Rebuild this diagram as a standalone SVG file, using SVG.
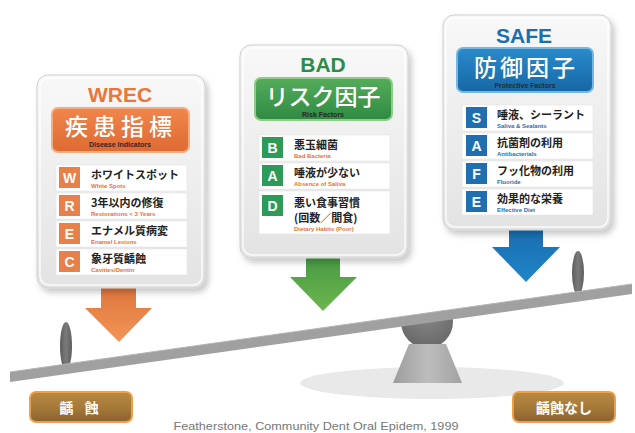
<svg xmlns="http://www.w3.org/2000/svg" width="635" height="433" viewBox="0 0 635 433">
<defs>
<style>
.card{fill:url(#cardG);stroke:#cfcfcf;stroke-width:1}
.cardIn{fill:none;stroke:#ffffff;stroke-width:1.5;opacity:.8}
.title{font-family:"Liberation Sans",Arial,sans-serif;font-weight:bold;font-size:21px;text-anchor:middle}
.hjp{font-family:"Noto Sans CJK JP",sans-serif;font-weight:500;font-size:23px;fill:#fff;text-anchor:middle}
.hen{font-family:"Liberation Sans",Arial,sans-serif;font-weight:bold;font-size:7px;fill:#2a2a2a;text-anchor:middle}
.row{fill:#fff;stroke:#e4e4e4;stroke-width:.6}
.let{font-family:"Liberation Sans",Arial,sans-serif;font-weight:bold;font-size:14px;fill:#fff;text-anchor:middle}
.rjp{font-family:"Noto Sans CJK JP",sans-serif;font-weight:700;font-size:11px;fill:#222}
.ren{font-family:"Liberation Sans",Arial,sans-serif;font-weight:bold;font-size:6px}
.btn{fill:url(#btnG);stroke:#eda048;stroke-width:2}
.btxt{font-family:"Noto Sans CJK JP",sans-serif;font-weight:700;font-size:14px;fill:#fff;text-anchor:middle}
</style>
<linearGradient id="cardG" x1="0" y1="0" x2="0" y2="1"><stop offset="0" stop-color="#f8f8f8"/><stop offset="1" stop-color="#e3e3e3"/></linearGradient>
<linearGradient id="oH" x1="0" y1="0" x2="0" y2="1"><stop offset="0" stop-color="#f0864c"/><stop offset="1" stop-color="#de6a32"/></linearGradient>
<linearGradient id="gH" x1="0" y1="0" x2="0" y2="1"><stop offset="0" stop-color="#55ac5a"/><stop offset="1" stop-color="#2f8a42"/></linearGradient>
<linearGradient id="bH" x1="0" y1="0" x2="0" y2="1"><stop offset="0" stop-color="#2a8bcb"/><stop offset="1" stop-color="#1667a6"/></linearGradient>
<linearGradient id="oA" x1="0" y1="0" x2="0" y2="1"><stop offset="0" stop-color="#d96c34"/><stop offset="1" stop-color="#f29556"/></linearGradient>
<linearGradient id="gA" x1="0" y1="0" x2="0" y2="1"><stop offset="0" stop-color="#3f9444"/><stop offset="1" stop-color="#6cb64c"/></linearGradient>
<linearGradient id="bA" x1="0" y1="0" x2="0" y2="1"><stop offset="0" stop-color="#1966a8"/><stop offset="1" stop-color="#1f86c8"/></linearGradient>
<linearGradient id="btnG" x1="0" y1="0" x2="0" y2="1"><stop offset="0" stop-color="#b88a44"/><stop offset=".5" stop-color="#a67a38"/><stop offset="1" stop-color="#8a6230"/></linearGradient>
<linearGradient id="trapG" x1="0" y1="0" x2="1" y2="0"><stop offset="0" stop-color="#9c9c9c"/><stop offset=".5" stop-color="#bdbdbd"/><stop offset="1" stop-color="#a2a2a2"/></linearGradient>
<linearGradient id="postG" x1="0" y1="0" x2="1" y2="0"><stop offset="0" stop-color="#5c5c5c"/><stop offset=".5" stop-color="#7a7a7a"/><stop offset="1" stop-color="#5e5e5e"/></linearGradient>
<radialGradient id="domeG" cx=".5" cy=".3" r=".7"><stop offset="0" stop-color="#8a8a8a"/><stop offset="1" stop-color="#686868"/></radialGradient>
<clipPath id="belowPlank"><polygon points="380,320 480,306 480,400 380,400"/></clipPath>
<filter id="sh" x="-10%" y="-10%" width="130%" height="130%"><feDropShadow dx="3" dy="4" stdDeviation="3" flood-color="#000" flood-opacity=".22"/></filter>
</defs>
<rect width="635" height="433" fill="#ffffff"/>

<!-- seesaw -->
<g id="seesaw">
<ellipse cx="432" cy="383" rx="132" ry="16" fill="#e9e9e9"/>
<circle cx="427" cy="322" r="26" fill="url(#domeG)" clip-path="url(#belowPlank)"/>
<polygon points="409,344 446,344 462,383 393,383" fill="url(#trapG)"/>
<ellipse cx="66" cy="346" rx="6" ry="24" fill="url(#postG)"/>
<ellipse cx="578" cy="273" rx="6" ry="22" fill="url(#postG)"/>
<polygon points="10,372 632,284 632,294 10,382" fill="#a0a0a0"/>
<line x1="10" y1="372" x2="632" y2="284" stroke="#b4b4b4" stroke-width="1"/>
</g>

<!-- connectors (arrows) -->
<g id="connectors">
<polygon points="101,270 136,270 136,308 152,308 119,342 85,308 101,308" fill="url(#oA)"/>
<polygon points="306,245 340,245 340,277 357,277 323,311 290,277 306,277" fill="url(#gA)"/>
<polygon points="509,215 543,215 543,247 560,247 526,282 492,247 509,247" fill="url(#bA)"/>
</g>

<!-- WREC card -->
<g id="wrec">
<rect class="card" x="37" y="75" width="168" height="213" rx="11" filter="url(#sh)"/>
<rect class="cardIn" x="40" y="78" width="162" height="207" rx="9"/>
<text class="title" x="120" y="102" fill="#e8773c">WREC</text>
<rect x="52" y="108" width="137" height="44" rx="6" fill="url(#oH)" stroke="#f5ad7f" stroke-width="2"/>
<text class="hjp" x="121" y="135" letter-spacing="5">疾患指標</text>
<text class="hen" x="120" y="147">Disease Indicators</text>
<rect class="row" x="56" y="165" width="131" height="26"/>
<rect x="59" y="167" width="21" height="21" fill="#e8804a"/>
<text class="let" x="69.5" y="183">W</text>
<text class="rjp" x="91" y="179">ホワイトスポット</text>
<text class="ren" x="91" y="188" fill="#e8703a">White Spots</text>
<rect class="row" x="56" y="193" width="131" height="26"/>
<rect x="59" y="195" width="21" height="21" fill="#e8804a"/>
<text class="let" x="69.5" y="211">R</text>
<text class="rjp" x="91" y="207">3年以内の修復</text>
<text class="ren" x="91" y="216" fill="#e8703a">Restorations &lt; 3 Years</text>
<rect class="row" x="56" y="221" width="131" height="26"/>
<rect x="59" y="223" width="21" height="21" fill="#e8804a"/>
<text class="let" x="69.5" y="239">E</text>
<text class="rjp" x="91" y="235">エナメル質病変</text>
<text class="ren" x="91" y="244" fill="#e8703a">Enamel Lesions</text>
<rect class="row" x="56" y="249" width="131" height="26"/>
<rect x="59" y="251" width="21" height="21" fill="#e8804a"/>
<text class="let" x="69.5" y="267">C</text>
<text class="rjp" x="91" y="263">象牙質齲蝕</text>
<text class="ren" x="91" y="272" fill="#e8703a">Cavities/Dentin</text>
</g>

<!-- BAD card -->
<g id="bad">
<rect class="card" x="240" y="45" width="168" height="213" rx="11" filter="url(#sh)"/>
<rect class="cardIn" x="243" y="48" width="162" height="207" rx="9"/>
<text class="title" x="323" y="72" fill="#2e8b4a">BAD</text>
<rect x="255" y="78" width="137" height="42" rx="6" fill="url(#gH)" stroke="#8fcc86" stroke-width="2"/>
<text class="hjp" x="323" y="105" font-size="24">リスク因子</text>
<text class="hen" x="323" y="117">Risk Factors</text>
<rect class="row" x="259" y="135" width="131" height="26"/>
<rect x="262" y="137" width="21" height="21" fill="#2e9a58"/>
<text class="let" x="272.5" y="153">B</text>
<text class="rjp" x="294" y="149">悪玉細菌</text>
<text class="ren" x="294" y="158" fill="#e8703a">Bad Bacteria</text>
<rect class="row" x="259" y="163" width="131" height="26"/>
<rect x="262" y="165" width="21" height="21" fill="#2e9a58"/>
<text class="let" x="272.5" y="181">A</text>
<text class="rjp" x="294" y="177">唾液が少ない</text>
<text class="ren" x="294" y="186" fill="#e8703a">Absence of Saliva</text>
<rect class="row" x="259" y="191" width="131" height="43"/>
<rect x="262" y="195" width="21" height="21" fill="#2e9a58"/>
<text class="let" x="272.5" y="211">D</text>
<text class="rjp" x="294" y="207">悪い食事習慣</text>
<text class="rjp" x="294" y="222">(回数／間食)</text>
<text class="ren" x="294" y="231" fill="#e8703a">Dietary Habits (Poor)</text>
</g>

<!-- SAFE card -->
<g id="safe">
<rect class="card" x="443" y="15" width="168" height="215" rx="11" filter="url(#sh)"/>
<rect class="cardIn" x="446" y="18" width="162" height="209" rx="9"/>
<text class="title" x="524" y="43" fill="#1b6fae" font-size="22">SAFE</text>
<rect x="457" y="48" width="136" height="44" rx="6" fill="url(#bH)" stroke="#78b6e2" stroke-width="2"/>
<text class="hjp" x="526" y="76" font-size="25" letter-spacing="3">防御因子</text>
<text class="hen" x="525" y="88">Protective Factors</text>
<rect class="row" x="462" y="105" width="131" height="26"/>
<rect x="466" y="107" width="21" height="21" fill="#1f6fb0"/>
<text class="let" x="476.5" y="123">S</text>
<text class="rjp" x="497" y="119">唾液、シーラント</text>
<text class="ren" x="497" y="128" fill="#2a70b0">Saliva &amp; Sealants</text>
<rect class="row" x="462" y="133" width="131" height="26"/>
<rect x="466" y="135" width="21" height="21" fill="#1f6fb0"/>
<text class="let" x="476.5" y="151">A</text>
<text class="rjp" x="497" y="147">抗菌剤の利用</text>
<text class="ren" x="497" y="156" fill="#2a70b0">Antibacterials</text>
<rect class="row" x="462" y="161" width="131" height="26"/>
<rect x="466" y="163" width="21" height="21" fill="#1f6fb0"/>
<text class="let" x="476.5" y="179">F</text>
<text class="rjp" x="497" y="175">フッ化物の利用</text>
<text class="ren" x="497" y="184" fill="#2a70b0">Fluoride</text>
<rect class="row" x="462" y="189" width="131" height="26"/>
<rect x="466" y="191" width="21" height="21" fill="#1f6fb0"/>
<text class="let" x="476.5" y="207">E</text>
<text class="rjp" x="497" y="203">効果的な栄養</text>
<text class="ren" x="497" y="212" fill="#2a70b0">Effective Diet</text>
</g>

<!-- bottom labels -->
<g id="caries">
<rect class="btn" x="30" y="392" width="102" height="30" rx="6"/>
<text class="btxt" x="81" y="413" letter-spacing="4">齲 蝕</text>
</g>
<g id="nocaries">
<rect class="btn" x="513" y="392" width="102" height="30" rx="6"/>
<text class="btxt" x="564" y="413">齲蝕なし</text>
</g>
<text x="316" y="430" font-family="Liberation Sans,Arial,sans-serif" font-size="11" fill="#777" text-anchor="middle" textLength="285" lengthAdjust="spacingAndGlyphs">Featherstone, Community Dent Oral Epidem, 1999</text>
</svg>
